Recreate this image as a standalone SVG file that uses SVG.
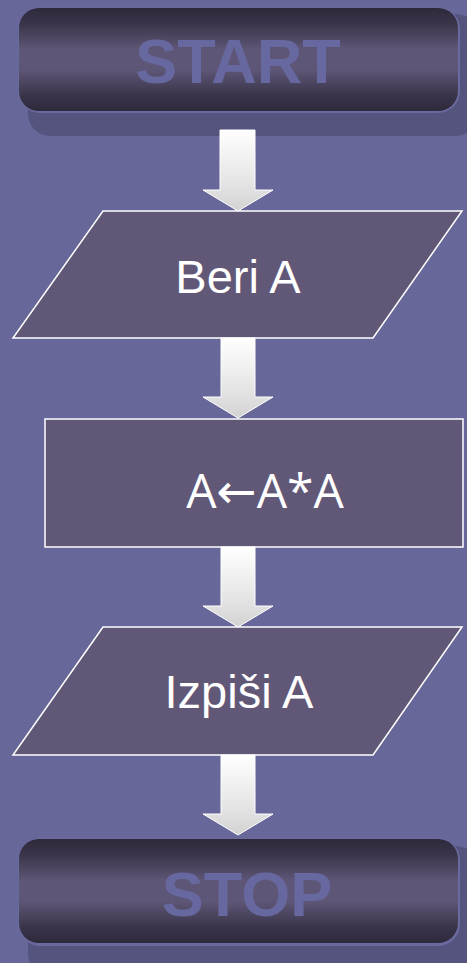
<svg xmlns="http://www.w3.org/2000/svg" width="467" height="963" viewBox="0 0 467 963">
<defs>
<linearGradient id="term" x1="0" y1="0" x2="0" y2="1">
<stop offset="0" stop-color="#2d293b"/>
<stop offset="0.15" stop-color="#3a3449"/>
<stop offset="0.4" stop-color="#5e5676"/>
<stop offset="0.6" stop-color="#5e5676"/>
<stop offset="0.85" stop-color="#3a3449"/>
<stop offset="1" stop-color="#2d293b"/>
</linearGradient>
<linearGradient id="arr" x1="0" y1="0" x2="0" y2="1">
<stop offset="0" stop-color="#ffffff"/>
<stop offset="0.7" stop-color="#e2e2e2"/>
<stop offset="1" stop-color="#d2d2d2"/>
</linearGradient>
<style>
.bg{fill:#676799}
.shadow{fill:#55547f}
.rim{fill:#6a6a9f}
.term{fill:url(#term)}
.ttxt{font-family:"Liberation Sans",Arial,sans-serif;font-weight:bold;font-size:63px;fill:#6868a0;text-anchor:middle}
.box{fill:#615878;stroke:#ffffff;stroke-width:1.5}
.txt{font-family:"Liberation Sans",Arial,sans-serif;font-size:47px;fill:#ffffff;text-anchor:middle}
.arrow{fill:url(#arr);stroke:#ffffff;stroke-width:1}
</style>
</defs>
<rect class="bg" x="0" y="0" width="467" height="963"/>

<g id="start">
<rect class="shadow" x="28" y="14" width="450" height="122" rx="22"/>
<rect class="rim" x="18" y="7" width="442" height="106" rx="22"/>
<rect class="term" x="19" y="8" width="439" height="103" rx="20"/>
<text class="ttxt" x="238" y="83">START</text>
</g>

<g id="input">
<polygon class="box" points="103,211 462,211 373,338 13,338"/>
<text class="txt" x="238" y="293">Beri A</text>
</g>

<g id="process">
<rect class="box" x="45" y="419" width="418" height="128"/>
<text class="txt" x="265" y="508" style="font-family:'Open Sans','DejaVu Sans',sans-serif;font-size:48px">A←A*A</text>
</g>

<g id="output">
<polygon class="box" points="103,627 462,627 373,755 13,755"/>
<text class="txt" x="239" y="708">Izpiši A</text>
</g>

<g id="stop">
<rect class="shadow" x="28" y="846" width="450" height="130" rx="22"/>
<rect class="rim" x="18" y="838" width="442" height="108" rx="22"/>
<rect class="term" x="19" y="839" width="439" height="104" rx="20"/>
<text class="ttxt" x="247" y="916">STOP</text>
</g>

<g id="connectors">
<polygon class="arrow" points="220,130 255,130 255,190 273,190 238,211 203,190 220,190"/>
<polygon class="arrow" points="221,338 255,338 255,397 273,397 238,418 203,397 221,397"/>
<polygon class="arrow" points="221,547 255,547 255,606 273,606 238,627 203,606 221,606"/>
<polygon class="arrow" points="221,755 255,755 255,814 273,814 238,835 203,814 221,814"/>
</g>
</svg>
